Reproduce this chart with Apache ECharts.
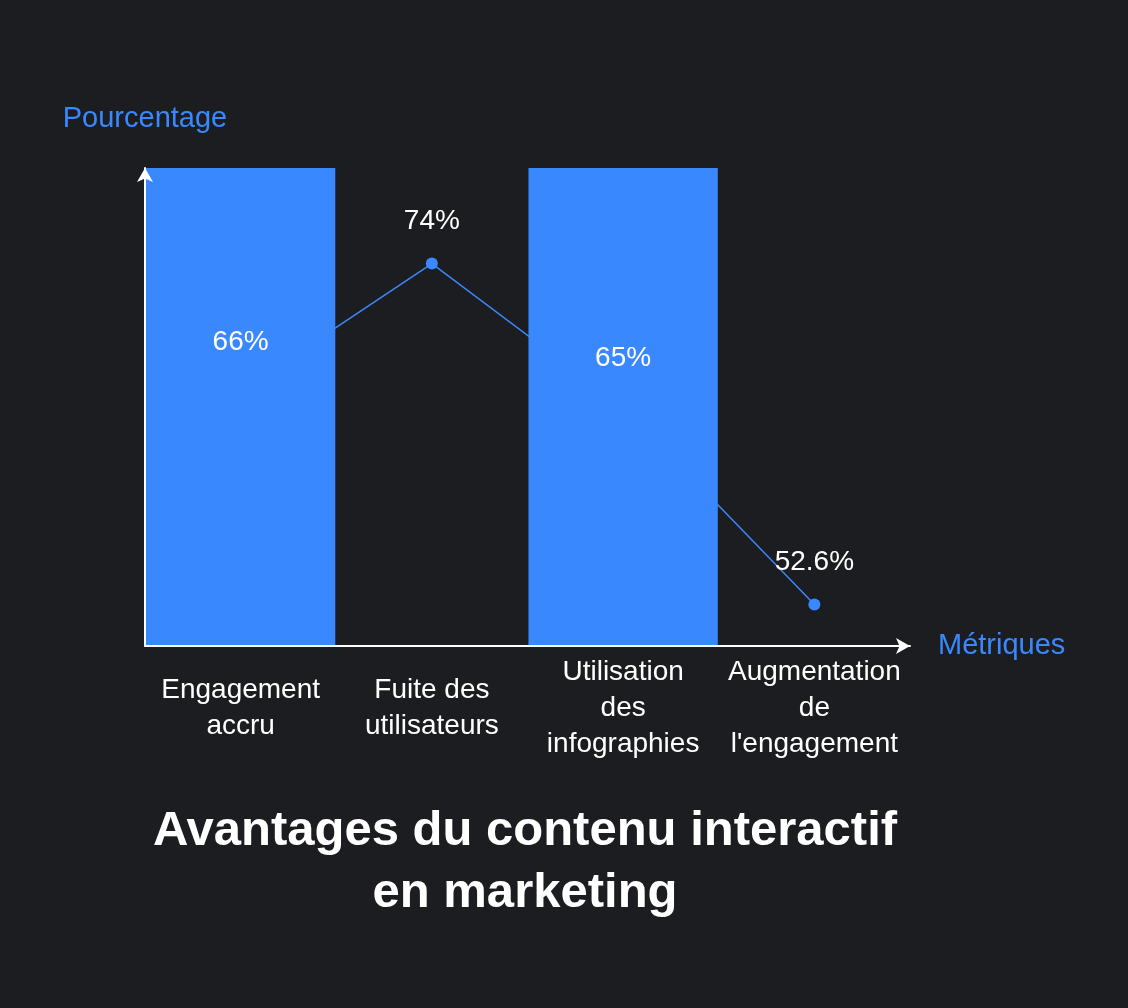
<!DOCTYPE html>
<html>
<head>
<meta charset="utf-8">
<script src="https://cdn.jsdelivr.net/npm/echarts@6/dist/echarts.min.js"></script>
<style>
html,body{margin:0;padding:0;background:#1c1d21;}
#chart{width:1128px;height:1008px;}
</style>
</head>
<body>
<div id="chart"></div>
<script>
var categories = ["Engagement\naccru", "Fuite des\nutilisateurs", "Utilisation\ndes\ninfographies", "Augmentation\nde\nl'engagement"];
var values = [66, 74, 65, 52.6];
var barMask = [true, false, true, false];

var blue = '#3a88fe';
var font = '"Liberation Sans", Arial, sans-serif';

var barData = values.map(function (v, i) { return barMask[i] ? v : '-'; });
var hiddenLabels = values.map(function (v, i) { return barMask[i] ? v : '-'; });
var lineData = values.map(function (v, i) {
	return { value: v, label: { show: !barMask[i] } };
});

var myChart = echarts.init(document.getElementById('chart'));
var option = {
	backgroundColor: '#1c1d21',
	animation: false,
	title: {
		text: 'Avantages du contenu interactif\nen marketing',
		left: 520,
		textAlign: 'center',
		top: 795,
		textStyle: { color: '#ffffff', fontSize: 49, fontWeight: 'bold', fontFamily: font, lineHeight: 62 }
	},
	grid: { left: 145, right: 218, top: 168, bottom: 362 },
	xAxis: {
		type: 'category',
		data: categories,
		boundaryGap: true,
		z: 10,
		name: 'Métriques',
		nameGap: 28,
		nameTextStyle: { color: blue, fontSize: 29, fontFamily: font },
		axisLine: { lineStyle: { color: '#ffffff', width: 2 }, symbol: ['none', 'arrow'], symbolSize: [12, 14] },
		axisTick: { show: false },
		axisLabel: { color: '#ffffff', fontSize: 28, fontFamily: font, lineHeight: 36, margin: 62, verticalAlign: 'middle', interval: 0 }
	},
	yAxis: [{
		type: 'value',
		min: 50,
		max: 80,
		z: 10,
		name: 'Pourcentage',
		nameLocation: 'end',
		nameGap: 35,
		nameTextStyle: { color: blue, fontSize: 29, fontFamily: font, align: 'center' },
		axisLine: { show: true, lineStyle: { color: '#ffffff', width: 2 }, symbol: ['none', 'arrow'], symbolSize: [12, 14] },
		axisTick: { show: false },
		axisLabel: { show: false },
		splitLine: { show: false }
	}, {
		type: 'value',
		min: 0,
		max: 65,
		show: false
	}],
	series: [{
		type: 'line',
		data: lineData,
		yAxisIndex: 0,
		z: 2,
		symbol: 'circle',
		symbolSize: 12,
		lineStyle: { color: blue, width: 1.5 },
		itemStyle: { color: blue },
		label: { position: 'top', distance: 22, color: '#ffffff', fontSize: 28, fontFamily: font, formatter: '{c}%' }
	}, {
		type: 'bar',
		data: barData,
		yAxisIndex: 1,
		z: 3,
		barWidth: '99%',
		clip: true,
		itemStyle: { color: blue }
	}, {
		type: 'scatter',
		data: hiddenLabels,
		yAxisIndex: 0,
		z: 5,
		symbolSize: 1,
		itemStyle: { color: 'rgba(0,0,0,0)', opacity: 1 },
		label: { show: true, position: 'top', distance: 34, color: '#ffffff', fontSize: 28, fontFamily: font, formatter: '{c}%' }
	}]
};
myChart.setOption(option);
</script>
</body>
</html>
